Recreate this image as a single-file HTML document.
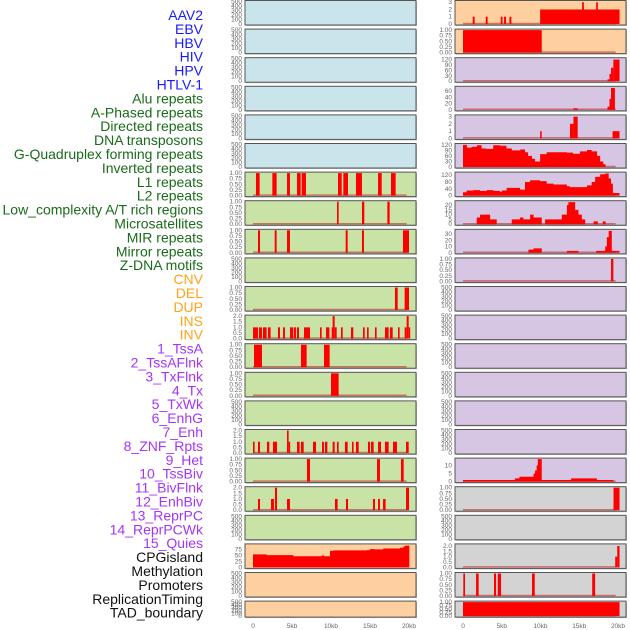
<!DOCTYPE html>
<html><head><meta charset="utf-8"><style>
body{margin:0;background:#fff;width:630px;height:630px;overflow:hidden}
svg{display:block}
.lab{font-family:"Liberation Sans",sans-serif;font-size:14px}
.tk{font-family:"Liberation Sans",sans-serif;font-size:6.5px;fill:#666}
</style></head><body>
<svg id="c" width="630" height="630" xmlns="http://www.w3.org/2000/svg"></svg>
<script>
const labels=["AAV2","EBV","HBV","HIV","HPV","HTLV-1","Alu repeats","A-Phased repeats","Directed repeats","DNA transposons","G-Quadruplex forming repeats","Inverted repeats","L1 repeats","L2 repeats","Low_complexity A/T rich regions","Microsatellites","MIR repeats","Mirror repeats","Z-DNA motifs","CNV","DEL","DUP","INS","INV","1_TssA","2_TssAFlnk","3_TxFlnk","4_Tx","5_TxWk","6_EnhG","7_Enh","8_ZNF_Rpts","9_Het","10_TssBiv","11_BivFlnk","12_EnhBiv","13_ReprPC","14_ReprPCWk","15_Quies","CPGisland","Methylation","Promoters","ReplicationTiming","TAD_boundary"];
const labelGroups=[6,13,5,15,5];
const xTicks=[0,5,10,15,20];
const xTickLabels=["0","5kb","10kb","15kb","20kb"];
// bar segments [startKb,endKb,value]
const L6=[[0.38,0.85,1],[2.48,3.03,1],[4.36,4.74,1],[5.64,6.11,1],[6.24,6.79,1],[10.9,11.37,1],[11.58,12.18,1],[13.2,13.97,1],[16.03,16.5,1],[17.69,18.29,1]];
const L7=[[10.77,10.98,1],[13.97,14.27,1],[17.22,17.52,1]];
const L8=[[0.64,0.9,1],[2.78,3.03,1],[4.36,4.74,1],[11.88,12.14,1],[13.97,14.23,1],[19.23,20.0,1]];
const L10=[[18.2,18.55,1],[19.44,20.0,1]];
const L11=[[0,0.64,1],[0.77,1.15,1],[1.28,1.75,1],[1.92,2.26,1],[3.2,3.46,1],[3.85,4.1,1],[4.74,5.17,1],[5.26,5.51,1],[5.64,5.9,1],[6.54,7.31,1],[8.59,8.8,1],[9.36,9.79,1],[10.09,10.21,1],[10.21,10.47,2],[10.47,10.73,1],[11.28,11.5,1],[12.56,12.86,1],[14.1,14.32,1],[14.62,14.83,1],[15.64,15.85,1],[16.92,17.39,1],[17.56,17.91,1],[18.59,18.8,1],[19.44,19.7,1],[19.7,19.96,2],[19.96,20.09,1]];
const L12=[[0.13,1.15,1],[6.15,6.88,1],[9.1,9.83,1]];
const L13=[[10.0,10.98,1]];
const L15=[[0,0.21,1],[0.64,0.9,1],[1.79,2.09,1],[2.56,3.08,1],[4.36,4.57,2],[4.57,4.7,1],[5.64,5.98,1],[6.15,6.5,1],[7.69,8.08,1],[8.85,9.1,1],[9.23,9.53,1],[10.21,10.47,1],[10.77,10.98,1],[11.79,12.14,1],[12.69,12.9,1],[13.2,13.55,1],[14.74,15.0,1],[15.13,15.47,1],[16.03,16.41,1],[16.92,17.39,1],[17.95,18.46,1],[19.62,19.96,1]];
const L16=[[6.92,7.31,1],[15.9,16.28,1],[18.97,19.32,1]];
const L17=[[0.64,0.9,1],[2.3,2.69,1],[2.82,3.08,2],[4.36,4.74,1],[10.51,10.85,1],[11.92,12.18,1],[15.38,15.64,1],[16.03,16.28,1],[16.67,17.0,1],[19.62,20.0,2]];
const R0=[[1.25,1.5,1],[2.93,3.18,1],[4.87,5.1,1],[5.3,5.55,1],[5.99,6.24,1],[9.95,20.2,2],[15.37,15.6,3],[17.18,17.4,3]];
const R1=[[0,10.16,1]];
const R2=[[18.65,18.9,10],[18.9,19.1,40],[19.1,19.4,75],[19.4,20.2,120]];
const R3=[[14.25,14.8,5],[18.65,18.9,10],[18.9,19.1,35],[19.1,19.6,70]];
const R4=[[9.95,10.15,1],[13.8,14.25,2],[14.25,14.8,3],[19.3,20.2,1]];
const R9=[[19.1,19.4,1]];
const R17=[[19.42,20.2,1]];
const R19=[[19.64,19.9,1],[19.9,20.2,2]];
const R20=[[0.04,0.26,1],[1.68,2.02,1],[4.0,4.26,1],[4.48,4.91,1],[8.9,9.26,1],[16.67,17.05,1]];
const R21=[[0,20.2,1]];
// step series [kb,value] (value holds to next point)
const L19s=[[0,55],[1.75,52],[5.17,47],[8.8,50],[9.1,47],[9.87,70],[10.3,72],[14.57,73],[15.0,77],[15.64,76],[16.7,80],[18.85,83],[19.27,88],[19.49,92],[20.04,0]];
const R5s=[[0,120],[0.5,105],[1.1,110],[1.8,118],[2.4,100],[3.0,98],[3.9,118],[4.8,115],[5.6,100],[6.3,90],[7.4,95],[8.0,80],[8.4,60],[8.9,45],[9.3,30],[9.95,70],[10.8,80],[12.5,80],[13.4,78],[14.2,72],[15.1,85],[16.0,92],[16.6,85],[17.3,60],[17.7,30],[18.1,15],[18.4,0]];
const R6s=[[0,20],[0.47,30],[1.33,32],[2.2,28],[3.06,32],[3.92,28],[4.78,22],[5.0,30],[5.64,45],[6.93,45],[7.36,35],[8.0,80],[8.66,90],[9.95,85],[10.8,70],[11.67,65],[12.5,65],[13.4,55],[13.8,50],[15.1,50],[16.0,60],[16.6,80],[17.05,110],[17.7,125],[18.35,130],[18.8,100],[19.1,70],[19.34,15],[20.2,0]];
const R7s=[[1.77,7],[2.2,10],[3.5,5],[4.35,0],[6.29,5],[7.36,7],[7.8,5],[8.66,10],[9.1,7],[10.16,0],[10.6,5],[12.75,10],[13.4,20],[13.6,23],[14.47,15],[14.9,10],[15.33,5],[15.76,0],[16.84,3],[17.4,0],[18.04,3],[18.4,0]];
const R8s=[[8.44,5],[9.1,7],[10.16,0],[13.4,3],[14.9,0],[17.18,3],[18.35,10],[18.56,25],[18.8,35],[19.2,3],[20.2,0]];
const R16s=[[0,1],[6.7,2],[7.28,3],[9.1,5],[9.3,7],[9.5,10],[9.65,14],[10.16,1],[13.95,2],[17.27,1],[19.4,0]];

const BLUE="#c9e4eb",PEACH="#fed09f",PURP="#d6c6e3",GREEN="#c9e2a6",GRAY="#d3d3d3";
const T500=[0,100,200,300,400,500],T1=[0,0.25,0.5,0.75,1],T2=[0,0.5,1,1.5,2];
const E={ymax:500,ticks:T500,fmt:0};
const left=[
 {...E,bg:BLUE},{...E,bg:BLUE},{...E,bg:BLUE},{...E,bg:BLUE},{...E,bg:BLUE},{...E,bg:BLUE},
 {bg:GREEN,ymax:1,ticks:T1,fmt:2,bars:L6},{bg:GREEN,ymax:1,ticks:T1,fmt:2,bars:L7},{bg:GREEN,ymax:1,ticks:T1,fmt:2,bars:L8},
 {...E,bg:GREEN},{bg:GREEN,ymax:1,ticks:T1,fmt:2,bars:L10},{bg:GREEN,ymax:2,ticks:T2,fmt:1,bars:L11},
 {bg:GREEN,ymax:1,ticks:T1,fmt:2,bars:L12},{bg:GREEN,ymax:1,ticks:T1,fmt:2,bars:L13},{...E,bg:GREEN},
 {bg:GREEN,ymax:2,ticks:T2,fmt:1,bars:L15},{bg:GREEN,ymax:1,ticks:T1,fmt:2,bars:L16},{bg:GREEN,ymax:2,ticks:T2,fmt:1,bars:L17},
 {...E,bg:GREEN},{bg:PEACH,ymax:95,ticks:[0,25,50,75],fmt:0,step:L19s,nobase:true},{...E,bg:PEACH},{...E,bg:PEACH}];
const right=[
 {bg:PEACH,ymax:3.1,ticks:[0,1,2,3],fmt:0,bars:R0},{bg:PEACH,ymax:1,ticks:T1,fmt:2,bars:R1},
 {bg:PURP,ymax:125,ticks:[0,30,60,90,120],fmt:0,bars:R2},{bg:PURP,ymax:72,ticks:[0,20,40,60],fmt:0,bars:R3},
 {bg:PURP,ymax:3.1,ticks:[0,1,2,3],fmt:0,bars:R4},{bg:PURP,ymax:122,ticks:[0,30,60,90,120],fmt:0,step:R5s},
 {bg:PURP,ymax:132,ticks:[0,40,80,120],fmt:0,step:R6s},{bg:PURP,ymax:23.5,ticks:[0,5,10,15,20],fmt:0,step:R7s},
 {bg:PURP,ymax:36,ticks:[0,10,20,30],fmt:0,step:R8s},{bg:PURP,ymax:1,ticks:T1,fmt:2,bars:R9},
 {...E,bg:PURP},{...E,bg:PURP},{...E,bg:PURP},{...E,bg:PURP},{...E,bg:PURP},{...E,bg:PURP},
 {bg:PURP,ymax:14,ticks:[0,5,10],fmt:0,step:R16s},{bg:GRAY,ymax:1,ticks:T1,fmt:2,bars:R17},{...E,bg:GRAY},
 {bg:GRAY,ymax:2.1,ticks:T2,fmt:1,bars:R19},{bg:GRAY,ymax:1,ticks:T1,fmt:2,bars:R20},{bg:GRAY,ymax:1,ticks:T1,fmt:2,bars:R21}];

const svg=document.getElementById('c');const NS="http://www.w3.org/2000/svg";
function mk(tag,attrs,parent){const e=document.createElementNS(NS,tag);for(const k in attrs)e.setAttribute(k,attrs[k]);(parent||svg).appendChild(e);return e;}
// labels
const gcol=["#1a1aff","#1a6b1a","#ffa31a","#a535f5","#111"];
let gi=0,cnt=0;
labels.forEach((t,i)=>{while(cnt>=labelGroups[gi]){cnt=0;gi++;}cnt++;
 const e=mk('text',{x:203,y:15+i*13.9+5,'text-anchor':'end',class:'lab',fill:gcol[gi]});e.textContent=t;
 
 });
const colsDef=[{x0:245,x1:416,k0:253,k1:409,panels:left},{x0:455,x1:626,k0:463,k1:618,panels:right}];
colsDef.forEach((c,ci)=>{
 const xs=kb=>c.k0+(c.k1-c.k0)*kb/20;
 c.panels.forEach((p,i)=>{
  const top=28.6*i+0.5,h=(i===21?16:24.5);
  const g=mk('g',{});
  
  
  mk('rect',{x:c.x0+1,y:top+1,width:c.x1-c.x0,height:h,fill:'#bbb'},g);
  mk('rect',{x:c.x0,y:top,width:c.x1-c.x0,height:h,fill:p.bg,stroke:'#555','stroke-width':1},g);
  const ys=v=>top+h-1-v/p.ymax*(h-2);
  p.ticks.forEach(t=>{const e=mk('text',{x:c.x0-3,y:ys(t)+2,'text-anchor':'end',class:'tk'},g);e.textContent=t.toFixed(p.fmt);
   
   });
  if(p.bars||p.step){
   if(!p.nobase)mk('line',{x1:xs(0),x2:xs(19.7),y1:ys(0)-0.5,y2:ys(0)-0.5,stroke:'rgba(190,30,30,0.55)','stroke-width':1.5},g);
  }
  if(p.bars)p.bars.forEach(b=>{const r=mk('rect',{x:xs(b[0]),y:ys(b[2]),width:Math.max(1.5,xs(b[1])-xs(b[0])),height:ys(0)-ys(b[2]),fill:'#ff0000'},g);
   
   });
  if(p.step){let d='M'+xs(p.step[0][0])+','+ys(0);
   for(let j=0;j<p.step.length;j++){const [k,v]=p.step[j];d+=' L'+xs(k)+','+ys(v);const nk=j+1<p.step.length?p.step[j+1][0]:k;d+=' L'+xs(nk)+','+ys(v);}
   d+=' L'+xs(p.step[p.step.length-1][0])+','+ys(0)+'Z';
   const a=mk('path',{d:d,fill:'#ff0000'},g);
   
   }
 });
 xTicks.forEach((t,j)=>{const e=mk('text',{x:xs(t),y:628,'text-anchor':'middle',class:'tk'});e.textContent=xTickLabels[j];
  
  });
});
</script>
</body></html>
